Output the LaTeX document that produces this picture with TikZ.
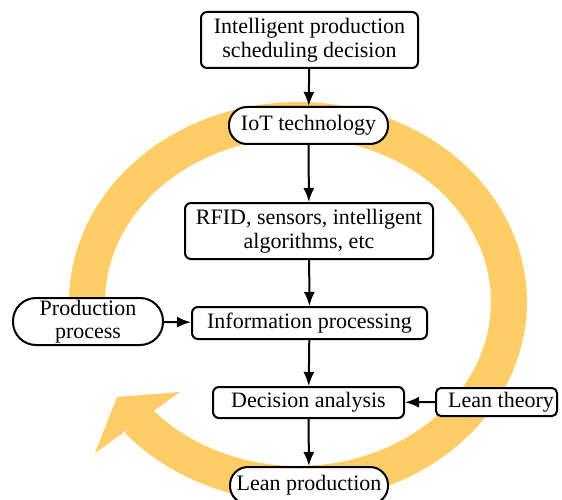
\documentclass[tikz,border=0pt]{standalone}
\usepackage{fontspec}
\setmainfont{Liberation Serif}
\newfontfamily\boxfont{Liberation Serif}
\usetikzlibrary{arrows.meta}
\definecolor{ringc}{RGB}{255,204,102}
\begin{document}
\begin{tikzpicture}[x=1pt,y=-1pt,
  box/.style={draw, line width=2pt, fill=white, rounded corners=6pt, align=center,
    inner sep=0pt, font=\boxfont\fontsize{22}{23.5}\selectfont},
  conn/.style={line width=2pt, -{Latex[length=14pt,width=11pt]}},
  ring/.style={draw=ringc, line width=36pt},
  ringhead/.style={fill=ringc},
]
\useasboundingbox (0,0) rectangle (562,500);
% yellow cycle
\draw[ring] plot[domain=-188:139.5, samples=150] ({298+211*cos(\x)},{302+182*sin(\x)});
\fill[ringhead] (117,397) -- (180,392) -- (95,453) -- cycle;
% nodes
\node[box, minimum width=217pt, minimum height=56pt] (ipsd) at (309.5,40) {Intelligent production\\scheduling decision};
\node[box, rounded corners=18pt, minimum width=159pt, minimum height=37pt] (iot) at (308.5,125.5) {IoT technology};
\node[box, minimum width=248pt, minimum height=56pt] (rfid) at (309,231) {RFID, sensors, intelligent\\algorithms, etc};
\node[box, minimum width=235pt, minimum height=32pt] (info) at (309.5,323) {Information processing};
\node[box, minimum width=191pt, minimum height=31pt] (dec) at (308.5,402.5) {Decision analysis};
\node[box, rounded corners=18pt, minimum width=158pt, minimum height=37pt] (lean) at (309,485.5) {Lean production};
\node[box, rounded corners=23pt, minimum width=150pt, minimum height=47pt] (prod) at (88,321.5) {Production\\process};
\node[box, rounded corners=5pt, minimum width=121pt, minimum height=28pt] (theory) at (496.5,402) {\hspace*{9pt}Lean theory};
% connectors
\draw[conn] (ipsd) -- (iot);
\draw[conn] (iot) -- (rfid);
\draw[conn] (rfid) -- (info);
\draw[conn] (info) -- (dec);
\draw[conn] (dec) -- (lean);
\draw[conn] (prod) -- (info);
\draw[conn] (theory) -- (dec);
\end{tikzpicture}
\end{document}
